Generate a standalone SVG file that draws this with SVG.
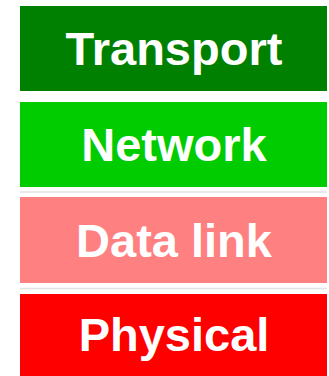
<svg xmlns="http://www.w3.org/2000/svg" width="329" height="376" viewBox="0 0 329 376">
<style>
.t{font-family:"Liberation Sans",Arial,sans-serif;font-weight:bold;font-size:47px;fill:#fff;text-anchor:middle}
.sep{stroke:#e2e2e2;stroke-width:1.5}
</style>
<rect width="329" height="376" fill="#fff"/>
<g id="connectors">
<line class="sep" x1="20" y1="192" x2="327" y2="192"/>
<line class="sep" x1="20" y1="288.5" x2="327" y2="288.5"/>
</g>
<g id="transport"><rect x="20" y="6" width="307" height="85" fill="#008000"/><text class="t" x="174" y="65">Transport</text></g>
<g id="network"><rect x="20" y="102" width="307" height="85" fill="#00cc00"/><text class="t" x="174" y="161">Network</text></g>
<g id="datalink"><rect x="20" y="197" width="307" height="86" fill="#ff8080"/><text class="t" x="174" y="257">Data link</text></g>
<g id="physical"><rect x="20" y="294" width="307" height="82" fill="#ff0000"/><text class="t" x="174" y="351">Physical</text></g>
</svg>
